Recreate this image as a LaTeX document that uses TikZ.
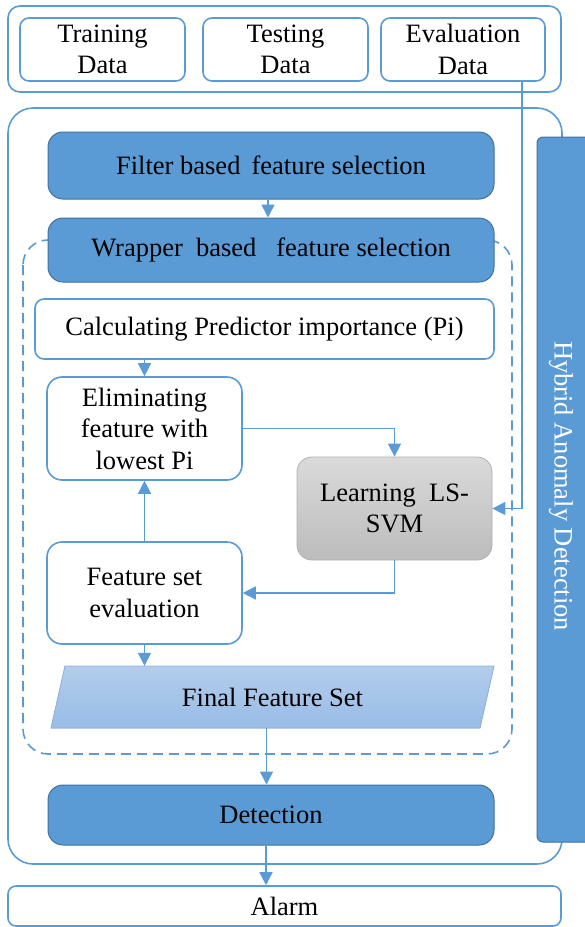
\documentclass[tikz,border=0pt]{standalone}
\usepackage{fontspec}
\setmainfont{Liberation Serif}
\newfontfamily\tnr{Liberation Serif}
\usetikzlibrary{arrows.meta}
\definecolor{bl}{HTML}{5B9BD5}
\definecolor{dkb}{HTML}{41719C}
\definecolor{lbtop}{HTML}{B3CDEB}
\definecolor{lbbot}{HTML}{98BCE6}
\definecolor{lbline}{HTML}{8DB3E2}
\definecolor{gtop}{HTML}{DADADA}
\definecolor{gbot}{HTML}{BCBCBC}
\definecolor{gline}{HTML}{B0B0B0}
\tikzset{
  txt/.style={font=\tnr\fontsize{26.5}{31.5}\selectfont, align=center, inner sep=0pt},
  whitebox/.style={txt, draw=bl, line width=1.6pt, fill=white, rounded corners=#1},
  whitebox/.default=9pt,
  darkbox/.style={txt, draw=dkb, line width=1pt, fill=bl, rounded corners=15pt},
  conn/.style={draw=bl, line width=1.5pt, -{Triangle[width=13pt,length=13pt]}},
  plain/.style={draw=bl, line width=1.5pt}
}
\begin{document}
\begin{tikzpicture}[x=1pt,y=-1pt]
\useasboundingbox (0,0) rectangle (585,927);
% top group
\node[whitebox=12pt, minimum width=553pt, minimum height=86pt] (topbox) at (284.5,49) {};
\node[whitebox, minimum width=165pt, minimum height=63pt] (train) at (102.5,49.5) {Training\\Data};
\node[whitebox, minimum width=165pt, minimum height=63pt] (test) at (285.5,49.5) {Testing\\Data};
\node[whitebox, minimum width=164pt, minimum height=63pt] (evalb) at (463,49.5) {Evaluation\\Data};
% big box
\node[whitebox=25pt, minimum width=554pt, minimum height=756pt] (bigbox) at (285,486) {};
% hybrid
\node[txt, draw=dkb, line width=1pt, fill=bl, rounded corners=6pt, minimum width=55pt, minimum height=705pt, text=white] (hybrid) at (564.5,489.5) {};
\node[txt, text=white, rotate=-90] (hybridtxt) at (561,486) {Hybrid Anomaly Detection};
% evaluation data line
\coordinate (ev) at ([xshift=59pt]evalb.south);
% filter
\node[darkbox, minimum width=446pt, minimum height=67pt] (filter) at (271,165.5) {Filter based\ \,feature selection};
% dashed region
\draw[bl, line width=1.6pt, dash pattern=on 10pt off 6pt, rounded corners=25pt] (23,240) rectangle (512,754);
\node[darkbox, minimum width=446pt, minimum height=64pt] (wrapper) at (271,250) {Wrapper\ \ based\ \ \ feature selection};
\node[whitebox, minimum width=459pt, minimum height=60pt] (calc) at (264.5,329) {Calculating Predictor importance (Pi)};
\node[whitebox=15pt, minimum width=195pt, minimum height=103pt] (elim) at (144.5,428.5) {Eliminating\\feature with\\lowest Pi};
\node[txt, draw=gline, line width=0.8pt, top color=gtop, bottom color=gbot, rounded corners=15pt, minimum width=195pt, minimum height=103pt] (learn) at (394.5,508.5) {Learning\ \ LS-\\SVM};
\node[whitebox=15pt, minimum width=195pt, minimum height=102pt] (fse) at (144.5,593) {Feature set\\evaluation};
% final feature set (parallelogram)
\node[txt, minimum width=443pt, minimum height=62pt] (final) at (272.5,697) {};
\fill[top color=lbtop, bottom color=lbbot] (65,666) -- (494,666) -- (480,728) -- (51,728) -- cycle;
\draw[lbline, line width=0.8pt] (65,666) -- (494,666) -- (480,728) -- (51,728) -- cycle;
\node[txt] (finaltxt) at (272.5,697) {Final Feature Set};
\node[darkbox, minimum width=446pt, minimum height=60pt] (detect) at (271,815) {Detection};
\node[whitebox=8pt, minimum width=553pt, minimum height=40pt] (alarm) at (284.5,906) {Alarm};
% connectors
\draw[conn] ([xshift=-3pt]filter.south) -- ([xshift=-3pt]wrapper.north);
\draw[conn] (calc.south -| elim.south) -- (elim.north);
\draw[conn] (elim.east) -| (learn.north);
\draw[conn] (ev) |- (learn.east);
\draw[conn] (learn.south) |- (fse.east);
\draw[conn] (fse.north) -- (elim.south);
\draw[conn] (fse.south) -- (fse.south |- final.north);
\draw[conn] ([xshift=-6pt]final.south) -- ([xshift=-6pt]final.south |- detect.north);
\draw[conn] ([xshift=-5pt]detect.south) -- ([xshift=-5pt]detect.south |- alarm.north);
\end{tikzpicture}
\end{document}
